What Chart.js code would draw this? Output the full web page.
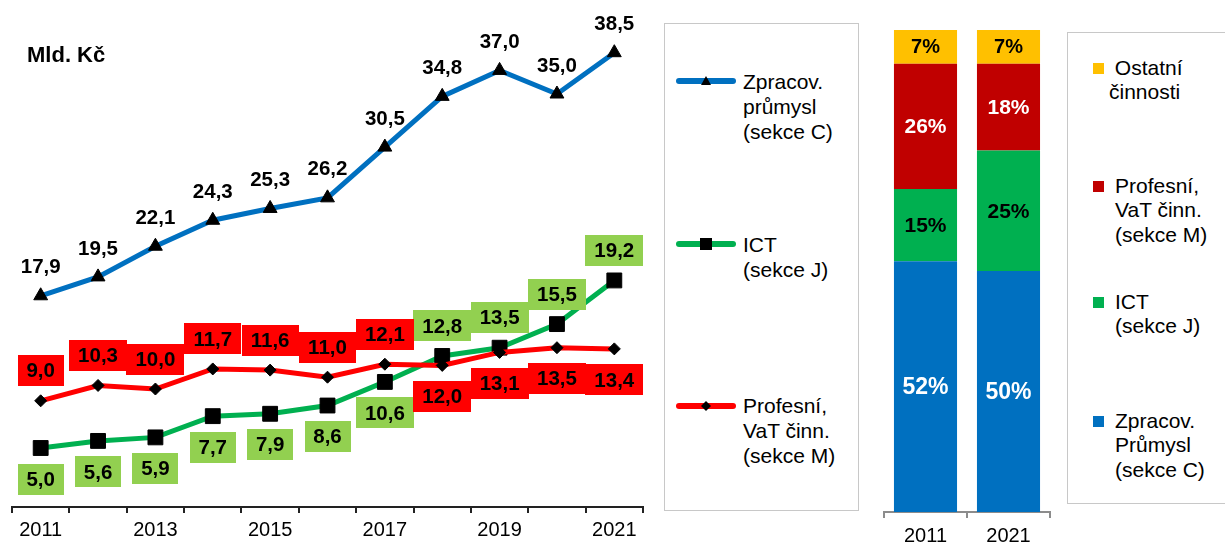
<!DOCTYPE html>
<html lang="cs">
<head>
<meta charset="utf-8">
<script src="https://cdn.jsdelivr.net/npm/chart.js@4.4.1/dist/chart.umd.min.js"></script>
<style>
  body { margin: 0; width: 1225px; height: 544px; overflow: hidden; background: #fff; position: relative;
         font-family: "Liberation Sans", Arial, sans-serif; }
  canvas { position: absolute; top: 0; }
  #graf1 { left: 0; }
  #graf2 { left: 870px; }
  .box { position: absolute; border: 1px solid #c8c8c8; box-sizing: border-box; }
  .txt { position: absolute; font-size: 21px; color: #000; white-space: pre; }
  #jednotka { position: absolute; left: 27px; top: 43px; font-size: 22px; font-weight: bold; line-height: 24px; }
</style>
</head>
<body>
<canvas id="graf1" width="655" height="547"></canvas>
<canvas id="graf2" width="190" height="555"></canvas>
<div id="jednotka">Mld. Kč</div>
<div class="box" style="left:664px;top:23px;width:195px;height:488px"></div>
<div class="box" style="left:1067px;top:32px;width:180px;height:472px"></div>
<div id="leg1"></div>
<div id="leg2"></div>
<script>
// data - mld. Kč
const roky = ['2011', '2012', '2013', '2014', '2015', '2016', '2017', '2018', '2019', '2020', '2021'];
const zpracovPrumysl = [17.9, 19.5, 22.1, 24.3, 25.3, 26.2, 30.5, 34.8, 37.0, 35.0, 38.5];
const ict = [5.0, 5.6, 5.9, 7.7, 7.9, 8.6, 10.6, 12.8, 13.5, 15.5, 19.2];
const profesni = [9.0, 10.3, 10.0, 11.7, 11.6, 11.0, 12.1, 12.0, 13.1, 13.5, 13.4];

// podily v %
const rokyPodil = ['2011', '2021'];
const podilZpracov = [52, 50];
const podilIct = [15, 25];
const podilProfesni = [26, 18];
const podilOstatni = [7, 7];

const pismo = '"Liberation Sans", Arial, sans-serif';
Chart.defaults.font.family = pismo;
Chart.defaults.color = '#000';
Chart.defaults.animation = false;

function fmt(v) { return v.toFixed(1).replace('.', ','); }

// popisky hodnot u car (s podkladem u ICT a sekce M)
const popiskyCar = {
  id: 'popiskyCar',
  afterDatasetsDraw(chart) {
    const ctx = chart.ctx;
    ctx.save();
    ctx.font = 'bold 20.5px ' + pismo;
    ctx.textAlign = 'center';
    ctx.textBaseline = 'middle';
    chart.data.datasets.forEach((ds, i) => {
      chart.getDatasetMeta(i).data.forEach((pt, j) => {
        let nahoru = true;
        if (ds.srovnani) nahoru = ds.data[j] > ds.srovnani[j];
        let y = pt.y + (nahoru ? -30 : 31);
        if (!ds.popisekPozadi) y = pt.y - 29;
        const txt = fmt(ds.data[j]);
        if (ds.popisekPozadi) {
          const w = Math.round(ctx.measureText(txt).width + 18);
          ctx.fillStyle = ds.popisekPozadi;
          ctx.fillRect(Math.round(pt.x - w / 2), Math.round(y - 15.5), w, 31);
        }
        ctx.fillStyle = '#000';
        ctx.fillText(txt, pt.x, y + 1);
      });
    });
    ctx.restore();
  }
};

// popisky procent ve sloupcich
const popiskySloupcu = {
  id: 'popiskySloupcu',
  afterDatasetsDraw(chart) {
    const ctx = chart.ctx;
    ctx.save();
    ctx.textAlign = 'center';
    ctx.textBaseline = 'middle';
    chart.data.datasets.forEach((ds, i) => {
      ctx.font = 'bold ' + ds.velikostPopisku + 'px ' + pismo;
      ctx.fillStyle = ds.barvaPopisku;
      chart.getDatasetMeta(i).data.forEach((bar, j) => {
        ctx.fillText(ds.data[j] + '%', bar.x, (bar.y + bar.base) / 2 + 1);
      });
    });
    ctx.restore();
  }
};

const graf1 = new Chart(document.getElementById('graf1'), {
  type: 'line',
  data: {
    labels: roky,
    datasets: [
      { label: 'Zpracov.\nprůmysl\n(sekce C)', data: zpracovPrumysl, borderColor: '#0070C0',
        pointStyle: 'triangle', pointRadius: 8, order: 2 },
      { label: 'ICT\n(sekce J)', data: ict, borderColor: '#00B050',
        pointStyle: 'rect', pointRadius: 10.5, order: 1, popisekPozadi: '#92D050', srovnani: profesni },
      { label: 'Profesní,\nVaT činn.\n(sekce M)', data: profesni, borderColor: '#FF0000',
        pointStyle: 'rectRot', pointRadius: 6, order: 0, popisekPozadi: '#FF0000', srovnani: ict }
    ]
  },
  options: {
    responsive: false,
    layout: { padding: { left: 12, right: 12, top: 35, bottom: 0 } },
    datasets: { line: { borderWidth: 5, tension: 0, pointBackgroundColor: '#000', pointBorderColor: '#000', pointBorderWidth: 1 } },
    plugins: { legend: { display: false }, tooltip: { enabled: false } },
    scales: {
      x: {
        offset: true,
        grid: { offset: true, drawOnChartArea: false, tickLength: 6, color: '#222', lineWidth: 2 },
        border: { color: '#222', width: 2 },
        ticks: {
          autoSkip: false, maxRotation: 0, padding: 5, font: { size: 20 },
          callback: function (v, i) { return i % 2 === 0 ? this.getLabelForValue(v) : ''; }
        }
      },
      y: { display: false, min: 0, max: 40 }
    }
  },
  plugins: [popiskyCar]
});

const graf2 = new Chart(document.getElementById('graf2'), {
  type: 'bar',
  data: {
    labels: rokyPodil,
    datasets: [
      { label: 'Zpracov.\nPrůmysl\n(sekce C)', data: podilZpracov, backgroundColor: '#0070C0', barvaPopisku: '#fff', velikostPopisku: 23 },
      { label: 'ICT\n(sekce J)', data: podilIct, backgroundColor: '#00B050', barvaPopisku: '#000', velikostPopisku: 21 },
      { label: 'Profesní,\nVaT činn.\n(sekce M)', data: podilProfesni, backgroundColor: '#C00000', barvaPopisku: '#fff', velikostPopisku: 21 },
      { label: ' Ostatní\nčinnosti', data: podilOstatni, backgroundColor: '#FFC000', barvaPopisku: '#000', velikostPopisku: 20 }
    ]
  },
  options: {
    responsive: false,
    layout: { padding: { left: 14, right: 10, top: 30, bottom: 0 } },
    datasets: { bar: { categoryPercentage: 1, barPercentage: 0.76 } },
    plugins: { legend: { display: false }, tooltip: { enabled: false } },
    scales: {
      x: {
        stacked: true,
        grid: { offset: true, drawOnChartArea: false, tickLength: 6, color: '#8c8c8c', lineWidth: 2 },
        border: { color: '#8c8c8c', width: 2 },
        ticks: { padding: 6.5, font: { size: 20 } }
      },
      y: { stacked: true, display: false, min: 0, max: 100 }
    }
  },
  plugins: [popiskySloupcu]
});

// legenda k carovemu grafu
function znacka(styl) {
  if (styl === 'triangle') return '<polygon points="31,2 36,11 26,11" fill="#000"/>';
  if (styl === 'rect') return '<rect x="25" y="1" width="12" height="12" fill="#000"/>';
  return '<polygon points="31,2 36,7 31,12 26,7" fill="#000"/>';
}
const stredy1 = [81, 244, 405.5];
let html = '';
graf1.data.datasets.forEach((ds, i) => {
  const c = stredy1[i];
  html += '<svg style="position:absolute;left:675px;top:' + (c - 7) + 'px" width="62" height="14">' +
    '<line x1="4" y1="7" x2="58" y2="7" stroke="' + ds.borderColor + '" stroke-width="6" stroke-linecap="round"/>' +
    znacka(ds.pointStyle) + '</svg>';
  html += '<div class="txt" style="left:743px;top:' + (c - 12.5) + 'px;line-height:25px">' + ds.label + '</div>';
});
document.getElementById('leg1').innerHTML = html;

// legenda ke sloupcum (odshora)
const stredy2 = [68, 186, 302, 421];
html = '';
graf2.data.datasets.slice().reverse().forEach((ds, i) => {
  const c = stredy2[i];
  const x = ds.label.startsWith(' ') ? 1109 : 1115;
  html += '<div style="position:absolute;left:1093px;top:' + (c - 5) + 'px;width:11px;height:11px;background:' + ds.backgroundColor + '"></div>';
  html += '<div class="txt" style="left:' + x + 'px;top:' + (c - 12.25) + 'px;line-height:24.5px">' + ds.label + '</div>';
});
document.getElementById('leg2').innerHTML = html;
</script>
</body>
</html>
